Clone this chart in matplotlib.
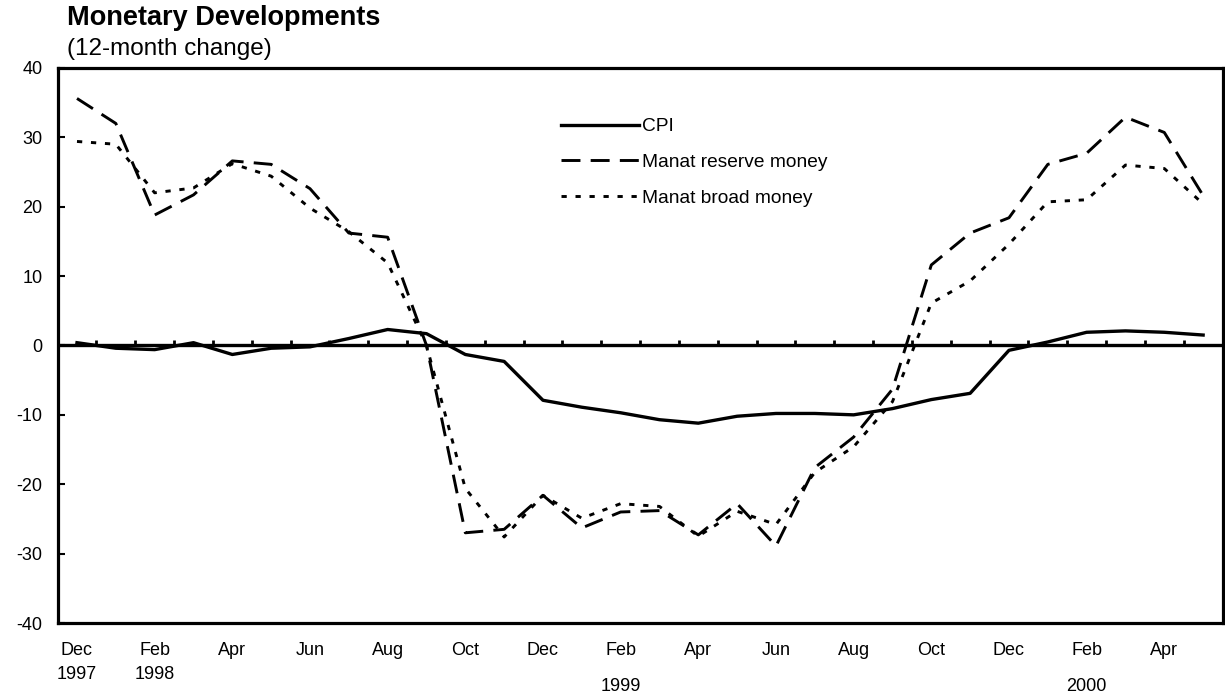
#!/usr/bin/python3

# Monetary developments: CPI vs manat reserve and broad money, 12-month change

import numpy as np
import matplotlib
matplotlib.use("Agg")
import matplotlib.pyplot as plt
import matplotlib.transforms as mtransforms

# months Dec 1997 .. May 2000
months = ["Dec", "Jan", "Feb", "Mar", "Apr", "May", "Jun", "Jul", "Aug", "Sep", "Oct", "Nov",
          "Dec", "Jan", "Feb", "Mar", "Apr", "May", "Jun", "Jul", "Aug", "Sep", "Oct", "Nov",
          "Dec", "Jan", "Feb", "Mar", "Apr", "May"]

cpi = [0.4, -0.4, -0.6, 0.4, -1.3, -0.4, -0.2, 1.0, 2.3, 1.7, -1.3, -2.3,
       -7.9, -8.9, -9.7, -10.7, -11.2, -10.2, -9.8, -9.8, -10.0, -9.1, -7.8, -6.9,
       -0.7, 0.5, 1.9, 2.1, 1.9, 1.5]

reserve_money = [35.6, 32.0, 18.8, 21.7, 26.6, 26.1, 22.6, 16.2, 15.6, 0.0, -27.0, -26.5,
                 -21.6, -26.3, -24.0, -23.8, -27.3, -22.8, -28.9, -17.6, -13.2, -6.3, 11.6, 16.2,
                 18.4, 26.1, 27.7, 32.9, 30.7, 21.6]

broad_money = [29.4, 29.0, 22.0, 22.7, 26.2, 24.4, 19.8, 16.4, 11.9, 0.0, -20.6, -27.6,
               -21.6, -24.9, -22.8, -23.2, -27.5, -23.9, -25.8, -18.3, -14.6, -8.1, 6.1, 9.3,
               14.6, 20.7, 21.0, 26.0, 25.5, 20.4]

# label every second month, years under some of them (second value = lower row)
label_idx = list(range(0, 30, 2))
year_labels = {0: ("1997", 0), 2: ("1998", 0), 14: ("1999", 1), 26: ("2000", 1)}

plt.rcParams['font.family'] = ['Liberation Sans', 'DejaVu Sans']
plt.rcParams['axes.unicode_minus'] = False

fig = plt.figure(figsize=(12.25, 6.93), dpi=100)
ax = fig.add_axes([0.047, 0.101, 0.951, 0.801])

x = np.arange(len(months))

ax.plot(x, cpi, color='black', lw=2.4, label='CPI')
ax.plot(x, reserve_money, color='black', lw=2.1, linestyle=(0, (6.5, 3.5)),
        label='Manat reserve money')
ax.plot(x, broad_money, color='black', lw=2.1, linestyle=(0, (1.8, 3.0)),
        label='Manat broad money')

# zero line with small monthly ticks
ax.axhline(0, color='black', lw=2.4, zorder=1)
ax.vlines(x[:-1] + 0.5, 0, 0.8, color='black', lw=2.0)

ax.set_xlim(-0.5, 29.5)
ax.set_ylim(-40, 40)
ax.set_yticks(range(-40, 41, 10))
ax.set_xticks(label_idx)
ax.set_xticklabels([months[i] for i in label_idx])

ax.tick_params(axis='y', direction='in', length=5, width=1.5, labelsize=13, pad=11)
ax.tick_params(axis='x', length=0, labelsize=13, pad=14)
for s in ax.spines.values():
    s.set_linewidth(2.3)

# year labels under month labels
trans = mtransforms.blended_transform_factory(ax.transData, ax.transAxes)
for i, (yr, row) in year_labels.items():
    ax.text(i, -0.093 - 0.022 * row, yr, transform=trans, ha='center', va='center', fontsize=13)

leg = ax.legend(loc='upper left', bbox_to_anchor=(0.432, 0.91), frameon=False,
                fontsize=13.8, handlelength=4.1, handletextpad=0.15, labelspacing=0.95,
                borderpad=0, borderaxespad=0)

fig.text(0.055, 0.993, "Monetary Developments", fontsize=19.5, fontweight='bold', va='top')
fig.text(0.055, 0.945, "(12-month change)", fontsize=17.5, va='top')

plt.savefig("out.png", dpi=100)
